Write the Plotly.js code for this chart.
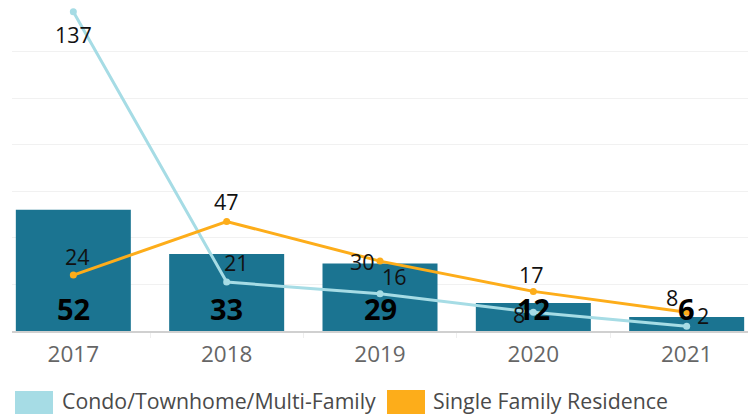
<!DOCTYPE html>
<html>
<head>
<meta charset="utf-8">
<script src="https://cdn.plot.ly/plotly-3.0.1.min.js"></script>
<style>html,body{margin:0;padding:0;background:#fff;}#chart{width:755px;height:415px;}</style>
</head>
<body>
<div id="chart"></div>
<script>
const years = ['2017', '2018', '2019', '2020', '2021'];
const totalSales = [52, 33, 29, 12, 6];
const condoSales = [137, 21, 16, 8, 2];
const sfrSales = [24, 47, 30, 17, 8];
const seriesNames = ['Condo/Townhome/Multi-Family', 'Single Family Residence'];

const barColor = '#1b7491';
const condoColor = '#a6dce5';
const sfrColor = '#fdad1a';
const FONT = 'Open Sans, sans-serif';

// label offsets (pixels) for line labels
const condoShift = [[0, -23], [10, 20], [14, 17], [-14, -2], [16, 11]];
const sfrShift = [[4, 19], [0, 20], [-18, 0], [-2, 17], [-15, 15]];

const traces = [
  {type: 'bar', x: years, y: totalSales, marker: {color: barColor}, width: 0.75, showlegend: false, hoverinfo: 'none'},
  {type: 'scatter', mode: 'lines+markers', x: years, y: condoSales, name: seriesNames[0],
   line: {color: condoColor, width: 3}, marker: {color: condoColor, size: 7}, showlegend: false},
  {type: 'scatter', mode: 'lines+markers', x: years, y: sfrSales, name: seriesNames[1],
   line: {color: sfrColor, width: 3}, marker: {color: sfrColor, size: 7}, showlegend: false}
];

const annotations = [];
years.forEach((yr, i) => {
  annotations.push({xref: 'x', yref: 'y', x: i, y: 0, text: '<b>' + totalSales[i] + '</b>', showarrow: false, yanchor: 'middle', yshift: 23,
    font: {family: FONT, size: 29, color: '#000'}});
  annotations.push({xref: 'x', yref: 'y', x: i, y: condoSales[i], text: String(condoSales[i]), showarrow: false,
    xshift: condoShift[i][0], yshift: condoShift[i][1], font: {family: FONT, size: 21.5, color: '#111'}});
  annotations.push({xref: 'x', yref: 'y', x: i, y: sfrSales[i], text: String(sfrSales[i]), showarrow: false,
    xshift: sfrShift[i][0], yshift: sfrShift[i][1], font: {family: FONT, size: 21.5, color: '#111'}});
});

const px = v => (v - 12) / 736;
const py = v => (331 - v) / 325;
// legend
annotations.push({xref: 'paper', yref: 'paper', x: px(60), y: py(400.5), xanchor: 'left', yanchor: 'middle',
  text: seriesNames[0], showarrow: false, font: {family: FONT, size: 21.3, color: '#4a4a4a'}});
annotations.push({xref: 'paper', yref: 'paper', x: px(431), y: py(400.5), xanchor: 'left', yanchor: 'middle',
  text: seriesNames[1], showarrow: false, font: {family: FONT, size: 21.3, color: '#4a4a4a'}});

const shapes = [
  {type: 'rect', xref: 'paper', yref: 'paper', x0: px(15), x1: px(53), y0: py(414), y1: py(391), fillcolor: condoColor, line: {width: 0}},
  {type: 'rect', xref: 'paper', yref: 'paper', x0: px(387), x1: px(425), y0: py(414), y1: py(390), fillcolor: sfrColor, line: {width: 0}}
];

const layout = {
  width: 755, height: 415,
  margin: {l: 12, r: 7, t: 6, b: 84},
  paper_bgcolor: '#fff', plot_bgcolor: '#fff',
  showlegend: false,
  xaxis: {type: 'category', range: [-0.4, 4.4], showgrid: false, zeroline: false,
    showline: true, linecolor: '#d0d0d0', linewidth: 1.5,
    ticks: 'outside', tickson: 'boundaries', ticklen: 5, tickcolor: '#eeeeee',
    ticklabelstandoff: 2,
    tickfont: {family: FONT, size: 22.5, color: '#666'}},
  yaxis: {range: [0, 139.5], dtick: 20, showgrid: true, gridcolor: '#f1f1f1', gridwidth: 1,
    zeroline: false, showticklabels: false, ticks: ''},
  annotations: annotations,
  shapes: shapes,
  font: {family: FONT}
};

Plotly.newPlot('chart', traces, layout, {displayModeBar: false, staticPlot: true});
</script>
</body>
</html>
